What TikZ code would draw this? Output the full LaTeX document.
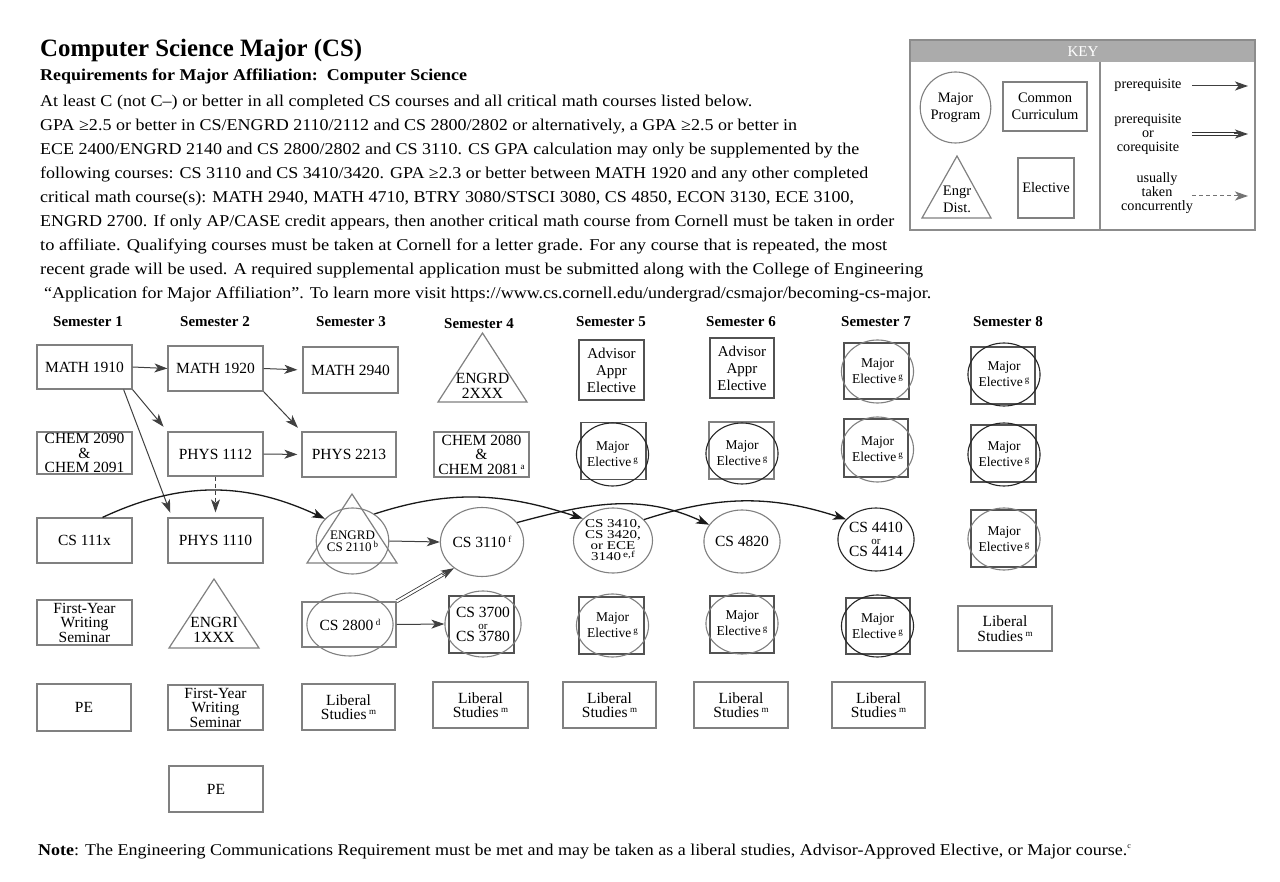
\documentclass[tikz,border=0pt]{standalone}
\usepackage{graphicx}
\usepackage{fontspec}
\setmainfont{Liberation Serif}
\newfontfamily\widefont[FakeStretch=1.25]{Liberation Serif}
\usetikzlibrary{shapes.geometric,arrows.meta,calc}
\newcommand{\fsz}[2]{\fontsize{#1}{#2}\selectfont}
\newcommand{\spx}[1]{\,\raisebox{0.7ex}{\fsz{9}{9}#1}}
\newcommand{\fitw}[2]{\resizebox{#1}{\height}{#2}}
\begin{document}
\begin{tikzpicture}[x=1pt,y=1pt,
  box/.style={draw=black!50, line width=1.2pt, inner sep=0pt, align=center, font=\fsz{15.5}{14.5}},
  dbox/.style={box, draw=black!68},
  ell/.style={ellipse, draw=black!50, line width=1.1pt, inner sep=0pt, align=center, font=\fsz{15.5}{14.5}},
  dell/.style={ell, draw=black!85},
  wh/.style 2 args={minimum width=#1pt, minimum height=#2pt},
  mj/.style={font=\fsz{13.5}{16}},
  lib/.style={box, font=\fsz{15.5}{14.5}},
  sem/.style={anchor=base, inner sep=0pt, font=\bfseries\fsz{15}{15}},
  tip/.style={-{Stealth[length=13pt,width=9pt,inset=3.5pt]}},
  arr/.style={draw=black!75, line width=1pt, tip},
  carr/.style={arr, draw=black!90, line width=1.3pt},
  darr/.style={arr, dash pattern=on 4pt off 3pt},
  dline/.style={draw=black!80, double=white, double distance=2.2pt, line width=0.8pt},
  body/.style={anchor=base west, inner sep=0pt, font=\fsz{16.5}{18}},
  tri/.style={draw=black!50, line width=1.2pt},
  plain/.style={inner sep=0pt, align=center},
]
\useasboundingbox (0,0) rectangle (1280,-882);
\fill[white] (0,0) rectangle (1280,-882);

% ---------- header text ----------
\node[anchor=base west, inner sep=0pt, font=\bfseries\fsz{25}{25}] (title) at (40,-57) {\fitw{322pt}{Computer Science Major (CS)}};
\node[anchor=base west, inner sep=0pt, font=\bfseries\fsz{16.5}{18}] (req) at (40,-81) {\fitw{427pt}{Requirements for Major Affiliation:\ \ Computer Science}};
\node[body] (l1) at (40,-106.5) {\fitw{712pt}{At least C (not C–) or better in all completed CS courses and all critical math courses listed below.}};
\node[body] (l2) at (40,-130.5) {\fitw{757pt}{GPA ≥2.5 or better in CS/ENGRD 2110/2112 and CS 2800/2802 or alternatively, a GPA ≥2.5 or better in}};
\node[body] (l3) at (40,-154.5) {\fitw{819pt}{ECE 2400/ENGRD 2140 and CS 2800/2802 and CS 3110. CS GPA calculation may only be supplemented by the}};
\node[body] (l4) at (40,-178.5) {\fitw{828pt}{following courses: CS 3110 and CS 3410/3420. GPA ≥2.3 or better between MATH 1920 and any other completed}};
\node[body] (l5) at (40,-202.5) {\fitw{814pt}{critical math course(s): MATH 2940, MATH 4710, BTRY 3080/STSCI 3080, CS 4850, ECON 3130, ECE 3100,}};
\node[body] (l6) at (40,-226.5) {\fitw{854pt}{ENGRD 2700. If only AP/CASE credit appears, then another critical math course from Cornell must be taken in order}};
\node[body] (l7) at (40,-250.5) {\fitw{847pt}{to affiliate. Qualifying courses must be taken at Cornell for a letter grade. For any course that is repeated, the most}};
\node[body] (l8) at (40,-274.5) {\fitw{883pt}{recent grade will be used. A required supplemental application must be submitted along with the College of Engineering}};
\node[body] (l9) at (44,-298.5) {\fitw{887pt}{“Application for Major Affiliation”. To learn more visit https://www.cs.cornell.edu/undergrad/csmajor/becoming-cs-major.}};

% ---------- key ----------
\fill[black!33] (910,-40) rectangle (1255,-62);
\draw[black!45, line width=1.2pt] (910,-40) rectangle (1255,-230);
\draw[black!45, line width=1.2pt] (1100,-62) -- (1100,-230);
\node[plain, text=white, font=\fsz{15}{15}] (keyt) at (1083,-52) {KEY};
\node[ell, wh={67}{71}, font=\fsz{14.5}{17}] (kmaj) at (955.5,-107.5) {Major\\Program};
\node[box, wh={84}{49}, font=\fsz{14.5}{17}] (kcom) at (1045,-106.5) {Common\\Curriculum};
\draw[tri] (922,-218) -- (957,-156) -- (991,-218) -- cycle;
\node[plain, font=\fsz{14.5}{17}] (kengr) at (957,-199) {Engr\\Dist.};
\node[box, wh={56}{60}, font=\fsz{14.5}{17}] (kel) at (1046,-188) {Elective};
\node[plain, font=\fsz{14.2}{14}] (kt1) at (1148,-85) {prerequisite};
\node[plain, font=\fsz{14.2}{14}] (kt2) at (1148,-134) {prerequisite\\or\\corequisite};
\node[plain, font=\fsz{14.2}{14}] (kt3) at (1157,-193) {usually\\taken\\concurrently};
\coordinate (k1a) at (1192,-86);  \coordinate (k1b) at (1248,-86);
\coordinate (k2a) at (1192,-134); \coordinate (k2b) at (1248,-134);
\coordinate (k3a) at (1192,-196); \coordinate (k3b) at (1248,-196);
\draw[arr] (k1a) -- (k1b);
\draw[dline, shorten >=9pt] (k2a) -- (k2b);
\draw[arr] ($(k2a)!0.75!(k2b)$) -- (k2b);
\draw[darr, draw=black!55] (k3a) -- (k3b);

% ---------- semester headers ----------
\node[sem] (s1) at (88,-327) {Semester 1};
\node[sem] (s2) at (215,-327) {Semester 2};
\node[sem] (s3) at (351,-327) {Semester 3};
\node[sem] (s4) at (479,-329) {Semester 4};
\node[sem] (s5) at (611,-327) {Semester 5};
\node[sem] (s6) at (741,-327) {Semester 6};
\node[sem] (s7) at (876,-327) {Semester 7};
\node[sem] (s8) at (1008,-327) {Semester 8};

% ---------- semester 1 ----------
\node[box, wh={95}{44}] (m1910) at (84.5,-367) {MATH 1910};
\node[box, wh={95}{42}] (chem2090) at (84.5,-453) {CHEM 2090\\\&\\CHEM 2091};
\node[box, wh={95}{45}] (cs111x) at (84.5,-540.5) {CS 111x};
\node[box, wh={95}{45}] (fws1) at (84.5,-622.5) {First-Year\\Writing\\Seminar};
\node[box, wh={94}{47}] (pe1) at (84,-707.5) {PE};

% ---------- semester 2 ----------
\node[box, wh={95}{45}] (m1920) at (215.5,-368.5) {MATH 1920};
\node[box, wh={95}{44}] (phys1112) at (215.5,-454) {PHYS 1112};
\node[box, wh={95}{45}] (phys1110) at (215.5,-540.5) {PHYS 1110};
\draw[tri] (169,-648) -- (214,-579) -- (259,-648) -- cycle;
\node[plain, font=\fsz{15.5}{14.5}] (engri) at (214,-630) {ENGRI\\1XXX};
\node[box, wh={95}{45}] (fws2) at (215.5,-707.5) {First-Year\\Writing\\Seminar};
\node[box, wh={94}{46}] (pe2) at (216,-789) {PE};

% ---------- semester 3 ----------
\node[box, wh={95}{46}] (m2940) at (350.5,-370) {MATH 2940};
\node[box, wh={94}{45}] (phys2213) at (349,-454.5) {PHYS 2213};
\draw[tri] (307,-563) -- (352,-494) -- (397,-563) -- cycle;
\node[ell, wh={71}{66}, font=\fsz{13}{12}] (cs2110) at (352.5,-541) {ENGRD\\CS 2110\spx{b}};
\node[box, wh={94}{45}] (cs2800r) at (349,-624.5) {};
\node[ell, wh={74}{63}] (cs2800) at (350,-624.5) {CS 2800\spx{d}};
\node[lib, wh={93}{46}] (lib3) at (348.5,-707) {Liberal\\Studies\spx{m}};

% ---------- semester 4 ----------
\draw[tri] (438,-402) -- (482.5,-333) -- (527,-402) -- cycle;
\node[plain, font=\fsz{15.5}{14.5}] (engrd) at (482.5,-386) {ENGRD\\2XXX};
\node[box, wh={95}{45}] (chem2080) at (481.5,-454.5) {CHEM 2080\\\&\\CHEM 2081\spx{a}};
\node[ell, wh={72}{69}] (cs3110) at (482,-542) {CS 3110\spx{f}};
\node[dbox, wh={65}{57}] (cs3700r) at (481.5,-624.5) {};
\node[ell, wh={72}{66}, font=\fsz{15.5}{12}] (cs3700) at (483,-624) {CS 3700\\{\fsz{11}{8}or}\\CS 3780};
\node[lib, wh={95}{46}] (lib4) at (480.5,-705) {Liberal\\Studies\spx{m}};

% ---------- semester 5 ----------
\node[dbox, wh={65}{60}, font=\fsz{15}{17}] (adv5) at (611.5,-370) {Advisor\\Appr\\Elective};
\node[dbox, wh={65}{57}] (maj5ar) at (613.5,-451) {};
\node[dell, mj, wh={71}{63}] (maj5a) at (612.5,-454.5) {Major\\Elective\spx{g}};
\node[ell, wh={72}{65}, font=\widefont\fsz{12}{11}] (cs3410) at (613,-540.5) {CS 3410,\\CS 3420,\\or ECE\\3140\spx{e,f}};
\node[dbox, wh={65}{57}] (maj5br) at (611.5,-625.5) {};
\node[ell, mj, wh={71}{63}] (maj5b) at (612.5,-625.5) {Major\\Elective\spx{g}};
\node[lib, wh={93}{46}] (lib5) at (609.5,-705) {Liberal\\Studies\spx{m}};

% ---------- semester 6 ----------
\node[dbox, wh={64}{60}, font=\fsz{15}{17}] (adv6) at (742,-368) {Advisor\\Appr\\Elective};
\node[box, wh={65}{57}] (maj6ar) at (741.5,-450.5) {};
\node[dell, mj, wh={70}{61}] (maj6a) at (742,-453.5) {Major\\Elective\spx{g}};
\node[ell, wh={70}{63}] (cs4820) at (742,-541.5) {CS 4820};
\node[dbox, wh={64}{57}] (maj6br) at (742,-624.5) {};
\node[ell, mj, wh={70}{61}] (maj6b) at (742,-623.5) {Major\\Elective\spx{g}};
\node[lib, wh={94}{46}] (lib6) at (741,-705) {Liberal\\Studies\spx{m}};

% ---------- semester 7 ----------
\node[dbox, wh={65}{56}] (maj7ar) at (876.5,-371) {};
\node[ell, mj, wh={71}{63}] (maj7a) at (877.5,-371.5) {Major\\Elective\spx{g}};
\node[dbox, wh={64}{58}] (maj7br) at (876,-448) {};
\node[ell, mj, wh={71}{65}] (maj7b) at (877.5,-449.5) {Major\\Elective\spx{g}};
\node[dell, wh={72}{63}, font=\fsz{15.5}{12}] (cs4410) at (876,-539.5) {CS 4410\\{\fsz{11}{8}or}\\CS 4414};
\node[dbox, wh={64}{56}] (maj7cr) at (878,-626) {};
\node[dell, mj, wh={71}{62}] (maj7c) at (877.5,-626) {Major\\Elective\spx{g}};
\node[lib, wh={93}{46}] (lib7) at (878.5,-705) {Liberal\\Studies\spx{m}};

% ---------- semester 8 ----------
\node[dbox, wh={64}{57}] (maj8ar) at (1003,-375.5) {};
\node[dell, mj, wh={72}{63}] (maj8a) at (1004,-374.5) {Major\\Elective\spx{g}};
\node[dbox, wh={65}{57}] (maj8br) at (1003.5,-453.5) {};
\node[dell, mj, wh={72}{63}] (maj8b) at (1004,-454.5) {Major\\Elective\spx{g}};
\node[dbox, wh={65}{57}] (maj8cr) at (1003.5,-538.5) {};
\node[ell, mj, wh={72}{62}] (maj8c) at (1004,-539) {Major\\Elective\spx{g}};
\node[lib, wh={94}{45}] (lib8) at (1005,-628.5) {Liberal\\Studies\spx{m}};

% ---------- connectors ----------
\draw[arr] (m1910.east) -- (m1920.west);
\draw[arr, shorten >=5pt] (m1920.east) -- (m2940.west);
\draw[arr, shorten >=6pt] (m1910.south east) -- (phys1112.north west);
\draw[arr, shorten >=5pt] (m1910.-30) -- (phys1110.152);
\draw[arr, shorten >=5pt] (m1920.south east) -- (phys2213.north west);
\draw[arr, shorten >=4pt] (phys1112.east) -- (phys2213.west);
\draw[darr, shorten >=5pt] (phys1112.south) -- (phys1110.north);
\draw[carr] (cs111x.52) to[out=25,in=155] (cs2110.141);
\draw[arr] (cs2110.east) -- (cs3110.west);
\draw[carr] (cs2110.51) to[out=18,in=162] (cs3410.144);
\draw[carr] (cs3110.29) to[out=15,in=155] (cs4820.153);
\draw[carr] (cs3410.34) to[out=18,in=162] (cs4410.146);
\draw[dline, shorten >=9pt] (cs2800r.north east) -- (cs3110.223);
\draw[arr] ($(cs2800r.north east)!0.8!(cs3110.223)$) -- (cs3110.223);
\draw[arr] (cs2800r.east) -- (cs3700.west);

% ---------- note ----------
\node[anchor=base west, inner sep=0pt, font=\fsz{16.5}{18}] (note) at (38,-855) {\fitw{1089pt}{\textbf{Note}: The Engineering Communications Requirement must be met and may be taken as a liberal studies, Advisor-Approved Elective, or Major course.}\textsuperscript{\fsz{8}{8}c}};
\end{tikzpicture}
\end{document}
